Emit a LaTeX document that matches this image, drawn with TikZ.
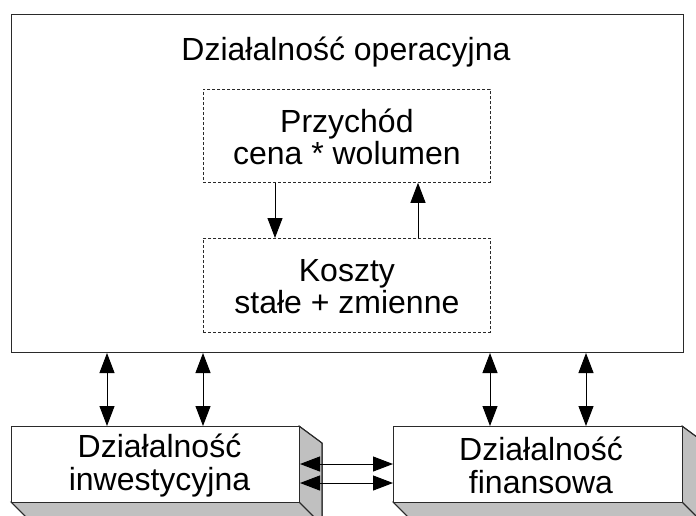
\documentclass[tikz,border=0pt]{standalone}
\usepackage{fontspec}
\setmainfont{Liberation Sans}
\usetikzlibrary{arrows.meta}
\definecolor{edge}{HTML}{2A2A2A}
\definecolor{depth}{HTML}{C0C0C0}
\tikzset{
  lbl/.style={font=\fontsize{32}{32.5}\selectfont, align=center, text=black},
  mainbox/.style={draw=edge, line width=1pt, fill=white, inner sep=0pt},
  dashbox/.style={draw=edge, dashed, dash pattern=on 3pt off 2pt, line width=0.8pt, inner sep=0pt},
  frontbox/.style={draw=edge, line width=1pt, fill=white, inner sep=0pt},
  face/.style={draw=edge, line width=1pt, fill=depth},
  tip/.style={Triangle[length=20pt,width=15pt]},
  flow/.style={draw=black, line width=1pt, -{Triangle[length=20pt,width=15pt]}},
  both/.style={draw=black, line width=1pt, {Triangle[length=20pt,width=15pt]}-{Triangle[length=20pt,width=15pt]}},
}
\begin{document}
\begin{tikzpicture}[x=1pt, y=-1pt]
\useasboundingbox (0,0) rectangle (696,515);
\begin{scope}
\clip (0,0) rectangle (696,515);

% operating activity frame
\node[mainbox, minimum width=672pt, minimum height=338pt, anchor=north west] (ops) at (11,14) {};
\node[lbl] (opst) at (346,52) {Działalność operacyjna};

% revenue and cost blocks
\node[dashbox, minimum width=287pt, minimum height=93pt, anchor=north west] (rev) at (203,89) {};
\node[lbl] (revt) at ([yshift=-1pt]rev.center) {Przychód\\cena * wolumen};
\node[dashbox, minimum width=287pt, minimum height=94pt, anchor=north west] (cost) at (203,238) {};
\node[lbl] (costt) at ([yshift=-1pt]cost.center) {Koszty\\stałe + zmienne};

\draw[flow] (rev.south -| 275,0) -- (cost.north -| 275,0);
\draw[flow] (cost.north -| 418,0) -- (rev.south -| 418,0);

% investing block with depth faces
\fill[face] (299,426) -- (322,443) -- (322,525) -- (299,502) -- cycle;
\fill[face] (11,502) -- (299,502) -- (322,525) -- (34,525) -- cycle;
\draw[edge, line width=1pt] (299,426) -- (322,443) -- (322,525);
\draw[edge, line width=1pt] (11,502) -- (34,525);
\draw[edge, line width=1pt] (299,502) -- (322,525);
\node[frontbox, minimum width=288pt, minimum height=76pt, anchor=north west] (inv) at (11,426) {};
\node[lbl] (invt) at ([xshift=4pt,yshift=-1pt]inv.center) {Działalność\\inwestycyjna};

% financing block with depth faces
\fill[face] (682,426) -- (705,443) -- (705,525) -- (682,502) -- cycle;
\fill[face] (393,502) -- (682,502) -- (705,525) -- (416,525) -- cycle;
\draw[edge, line width=1pt] (682,426) -- (705,443) -- (705,525);
\draw[edge, line width=1pt] (393,502) -- (416,525);
\draw[edge, line width=1pt] (682,502) -- (705,525);
\node[frontbox, minimum width=289pt, minimum height=76pt, anchor=north west] (fin) at (393,426) {};
\node[lbl] (fint) at ([xshift=3pt,yshift=-1pt]fin.center) {Działalność\\finansowa};

% flows between the activities
\draw[both] (ops.south -| 107,0) -- (inv.north -| 107,0);
\draw[both] (ops.south -| 203,0) -- (inv.north -| 203,0);
\draw[both] (ops.south -| 490,0) -- (fin.north -| 490,0);
\draw[both] (ops.south -| 586,0) -- (fin.north -| 586,0);
\draw[both] (inv.east |- 0,464) -- (fin.west |- 0,464);
\draw[both] (inv.east |- 0,483) -- (fin.west |- 0,483);
\end{scope}
\end{tikzpicture}
\end{document}
